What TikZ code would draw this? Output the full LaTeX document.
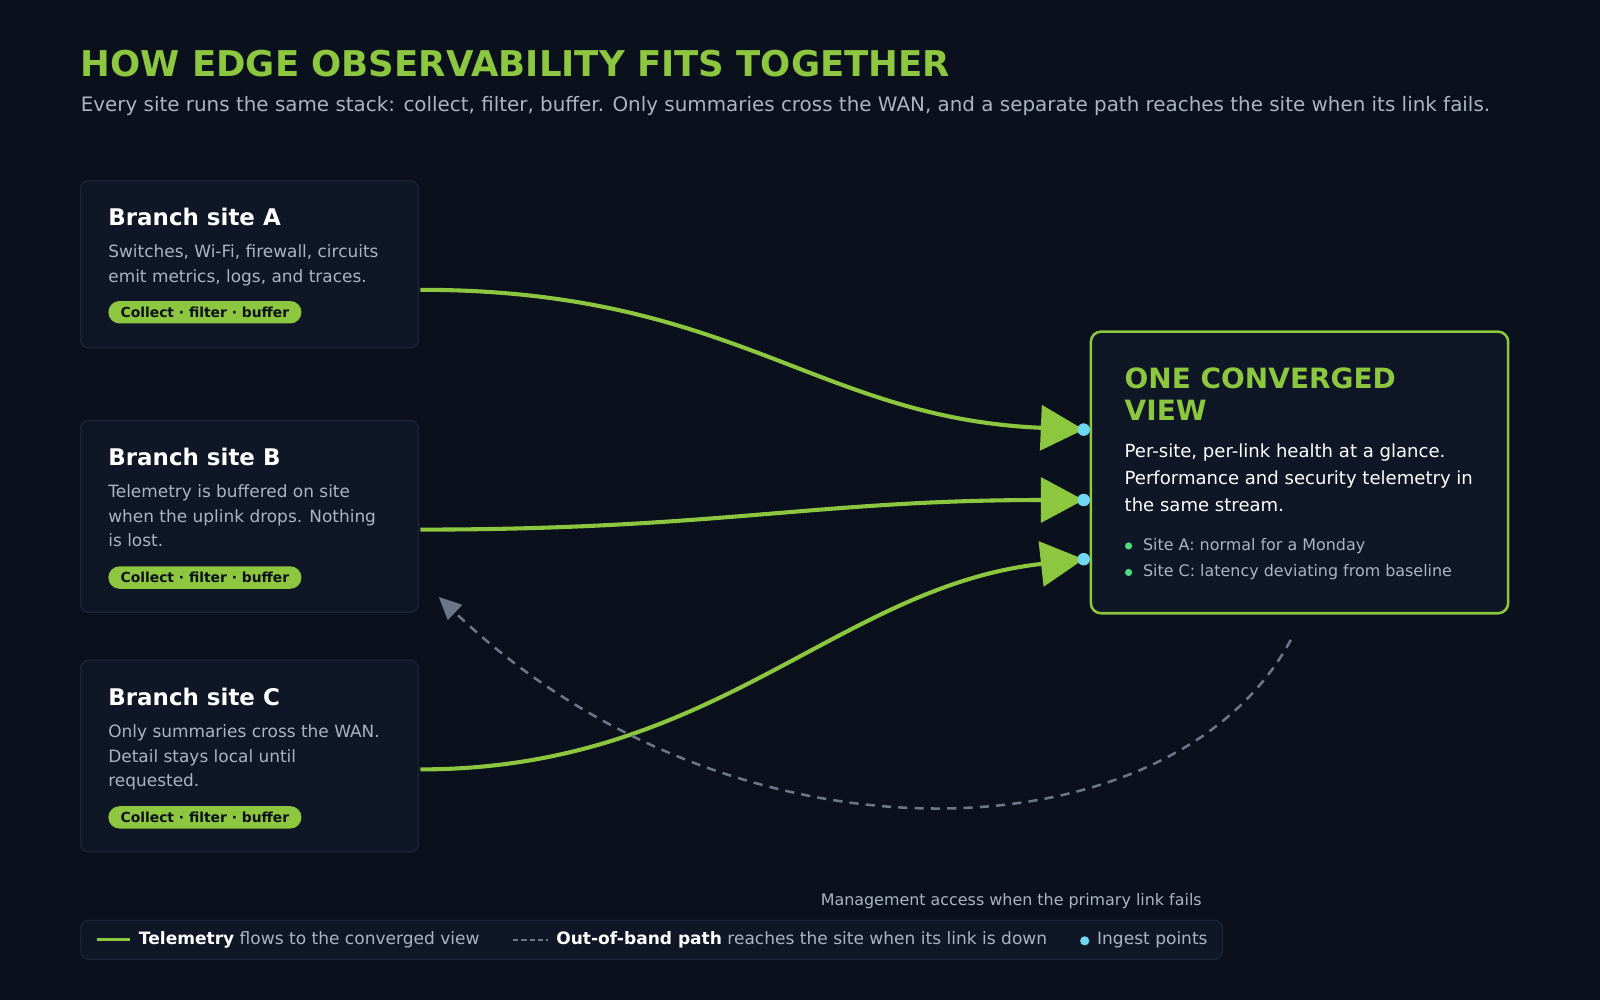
\documentclass[tikz,border=0pt]{standalone}
\usepackage{fontspec}
\setmainfont{DejaVu Sans}
\usetikzlibrary{arrows.meta}
\definecolor{bg}{HTML}{0B111C}
\definecolor{card}{HTML}{0F1727}
\definecolor{cardb}{HTML}{1C2638}
\definecolor{grn}{HTML}{8DC63F}
\definecolor{txt}{HTML}{AAB4C3}
\definecolor{cy}{HTML}{6FD8F0}
\definecolor{dot}{HTML}{4ADE80}
\definecolor{dashc}{HTML}{6B7688}
\begin{document}
\begin{tikzpicture}[x=1pt,y=-1pt,
 card/.style={fill=card,draw=cardb,line width=1.2pt,rounded corners=8pt},
 ttl/.style={anchor=base west,text=white,font=\fontsize{22.5}{26}\selectfont\bfseries,inner sep=0},
 body/.style={anchor=north west,text=txt,font=\fontsize{16.6}{24}\selectfont,inner sep=0,align=left},
 pill/.style={fill=grn,rounded corners=11pt,text=bg,font=\fontsize{13.6}{16}\selectfont\bfseries,minimum height=22pt,inner xsep=12pt,inner ysep=0,anchor=west},
 tele/.style={draw=grn,line width=4pt,-{Triangle[length=42pt,width=44pt]}},
 ing/.style={circle,fill=cy,inner sep=0,minimum size=12pt},
 small/.style={text=txt,font=\fontsize{15.6}{18}\selectfont,inner sep=0},
 leg/.style={text=txt,font=\fontsize{16.7}{20}\selectfont,inner sep=0,anchor=west}]
\fill[bg] (0,0) rectangle (1568,980);
\useasboundingbox (0,0) rectangle (1568,980);
\node[anchor=base west,inner sep=0,text=grn,font=\fontsize{34.8}{40}\selectfont\bfseries] (title) at (79,75) {HOW EDGE OBSERVABILITY FITS TOGETHER};
\node[anchor=base west,inner sep=0,text=txt,font=\fontsize{19.5}{22}\selectfont] (sub) at (79,109) {Every site runs the same stack: collect, filter, buffer. Only summaries cross the WAN, and a separate path reaches the site when its link fails.};
% cards
\draw[card] (79,177) rectangle (410,341);
\node[ttl] (ta) at (106,221) {Branch site A};
\node[body] (ba) at (106,240) {Switches, Wi-Fi, firewall, circuits\\emit metrics, logs, and traces.};
\node[pill] (pa) at (106,306) {Collect · filter · buffer};
\draw[card] (79,412) rectangle (410,600);
\node[ttl] (tb) at (106,456) {Branch site B};
\node[body] (bb) at (106,475) {Telemetry is buffered on site\\when the uplink drops. Nothing\\is lost.};
\node[pill] (pb) at (106,566) {Collect · filter · buffer};
\draw[card] (79,647) rectangle (410,835);
\node[ttl] (tc) at (106,691) {Branch site C};
\node[body] (bc) at (106,710) {Only summaries cross the WAN.\\Detail stays local until\\requested.};
\node[pill] (pc) at (106,801) {Collect · filter · buffer};
% converged
\draw[fill=card,draw=grn,line width=2.5pt,rounded corners=10pt] (1069,325) rectangle (1478,601);
\node[anchor=north west,inner sep=0,text=grn,font=\fontsize{27.4}{32}\selectfont\bfseries,align=left] (cv) at (1102,360) {ONE CONVERGED\\VIEW};
\node[anchor=north west,inner sep=0,text=white,font=\fontsize{17.7}{26.5}\selectfont,align=left] (cb) at (1102,435) {Per-site, per-link health at a glance.\\Performance and security telemetry in\\the same stream.};
\fill[dot] (1106,535) circle (3.5pt); \node[small,anchor=west] (b1) at (1120,535) {Site A: normal for a Monday};
\fill[dot] (1106,561) circle (3.5pt); \node[small,anchor=west] (b2) at (1120,561) {Site C: latency deviating from baseline};
% ingest points
\coordinate (sa) at (412,284); \coordinate (sb) at (412,519); \coordinate (sc) at (412,754);
\node[ing] (ia) at (1062,421) {}; \node[ing] (ib) at (1062,490) {}; \node[ing] (ic) at (1062,548) {};
\draw[tele] (sa) .. controls (720,284) and (800,410) .. (ia.center);
\draw[tele] (sb) .. controls (700,519) and (800,490) .. (ib.center);
\draw[tele] (sc) .. controls (700,754) and (820,575) .. (ic.center);
\node[ing] at (1062,421) {}; \node[ing] at (1062,490) {}; \node[ing] at (1062,548) {};
% oob
\coordinate (o1) at (1265,627); \coordinate (o2) at (430,585);
\draw[dashc,line width=2.5pt,dash pattern=on 9pt off 7pt,-{Triangle[length=22pt,width=20pt]}] (o1) .. controls (1150,842) and (720,862) .. (o2);
\node[small,anchor=base] (ml) at (991,887) {Management access when the primary link fails};
% legend
\fill[card,rounded corners=8pt] (79,902) rectangle (1198,940);
\draw[grn,line width=3pt] (95,921) -- (127,921);
\node[leg] (l1) at (136,921) {\textcolor{white}{\bfseries Telemetry} flows to the converged view};
\draw[dashc,line width=2.5pt,dash pattern=on 5pt off 3pt] (503,921) -- (537,921);
\node[leg] (l2) at (545,921) {\textcolor{white}{\bfseries Out-of-band path} reaches the site when its link is down};
\fill[cy] (1063,922) circle (4.5pt);
\node[leg] (l3) at (1075,921) {Ingest points};
\end{tikzpicture}
\end{document}
